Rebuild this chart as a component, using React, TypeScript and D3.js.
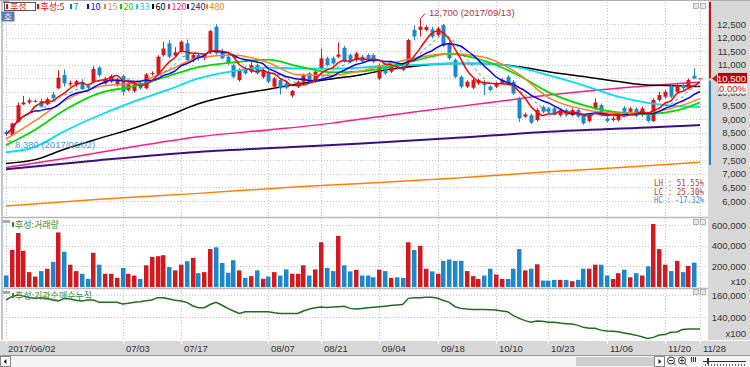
import * as d3 from 'd3'

// daily candles, 2017/06/02 .. 2017/11/28
const opens = [8540, 8420, 8910, 9550, 9620, 9670, 9670, 9550, 9910, 10140, 10630, 10280, 10280, 10380, 10230, 10380, 10900, 10320, 10380, 10260,
  10590, 10075, 10040, 10320, 10140, 10680, 10650, 11360, 11790, 11340, 11480, 11790, 11180, 11360, 11240, 11460, 12400, 11480, 11300, 10990,
  10440, 10870, 10750, 10990, 10560, 10750, 10200, 10440, 10320, 9870, 10200, 10380, 10690, 10380, 10870, 11240, 11240, 11300, 11630, 11360,
  11180, 11300, 11360, 11360, 10500, 10870, 10750, 11020, 10990, 11120, 12280, 12280, 12280, 12300, 12100, 12460, 11790, 11180, 10560, 10200,
  10160, 10320, 10380, 10200, 10200, 10320, 10560, 10380, 9770, 9100, 9150, 8970, 9460, 9400, 9400, 9150, 9340, 9150, 9340, 9150,
  8940, 9400, 9520, 9030, 8970, 8970, 9420, 9280, 9380, 9150, 9150, 8940, 9710, 9830, 10230, 10010, 10260, 10160, 10600, 10500]
const highs = [8600, 8880, 9620, 9860, 9770, 9720, 9770, 9800, 10000, 10810, 10830, 10420, 10450, 10470, 10300, 10950, 10950, 10560, 10650, 10520,
  10650, 10380, 10320, 10380, 10700, 10760, 11350, 11850, 11900, 11650, 11900, 11930, 11420, 11400, 11420, 12280, 12490, 11600, 11400, 11050,
  10870, 10950, 11120, 11050, 10870, 10810, 10560, 10500, 10380, 10080, 10420, 10680, 10750, 10800, 11600, 11300, 11300, 11820, 11700, 11420,
  11480, 11360, 11420, 11420, 11050, 10950, 11050, 11080, 11050, 11950, 12450, 12700, 12450, 12400, 12400, 12500, 11850, 11240, 10620, 10440,
  10500, 10500, 10440, 10260, 10380, 10500, 10620, 10440, 9830, 9250, 9210, 9400, 9520, 9460, 9460, 9400, 9400, 9400, 9400, 9200,
  9200, 9770, 9580, 9100, 9100, 9220, 9480, 9460, 9440, 9460, 9200, 9770, 10010, 10070, 10300, 10320, 10320, 10500, 10870, 10500]
const lows = [8380, 8400, 8880, 9520, 9560, 9620, 9430, 9520, 9700, 10100, 10200, 10200, 10200, 10080, 10100, 10350, 10560, 10280, 10340, 10200,
  9890, 10020, 9980, 10080, 10100, 10600, 10600, 11300, 11250, 11300, 11450, 11100, 11100, 11150, 11180, 11400, 11380, 11200, 11000, 10500,
  10380, 10630, 10700, 10630, 10500, 10330, 10100, 9920, 10100, 9790, 10150, 10340, 10400, 10340, 10820, 10940, 11000, 11250, 11080, 11060,
  11120, 11060, 11180, 11060, 10440, 10630, 10700, 10820, 10760, 11060, 11900, 12040, 12230, 11980, 12050, 11650, 11180, 10500, 10130, 10150,
  10100, 10260, 9890, 10020, 10150, 10280, 10280, 9900, 8900, 9050, 8820, 8920, 9220, 9220, 9150, 9100, 9100, 9100, 9050, 8800,
  8880, 9340, 9100, 8880, 8920, 8920, 9220, 9220, 9080, 9100, 8880, 8900, 9650, 9770, 9770, 9950, 10080, 10100, 10470, 10500]
const closes = [8450, 8850, 9520, 9620, 9700, 9680, 9460, 9740, 9770, 10530, 10320, 10340, 10400, 10110, 10160, 10850, 10630, 10500, 10590, 10470,
  10010, 10320, 10280, 10140, 10650, 10700, 11300, 11600, 11300, 11460, 11850, 11180, 11360, 11240, 11360, 12240, 11420, 11240, 11050, 10560,
  10810, 10690, 10990, 10690, 10810, 10380, 10500, 10140, 10160, 10040, 10380, 10630, 10440, 10750, 11240, 10990, 11050, 11380, 11120, 11120,
  11420, 11120, 11240, 11120, 10990, 10690, 10990, 10870, 10810, 11910, 12040, 12400, 12390, 12040, 12340, 11700, 11240, 10560, 10200, 10380,
  10440, 10440, 10260, 10080, 10320, 10440, 10320, 9950, 9030, 9180, 8880, 9340, 9280, 9280, 9220, 9340, 9150, 9340, 9100, 8850,
  9150, 9620, 9150, 8940, 9030, 9180, 9280, 9400, 9130, 9400, 8940, 9710, 9890, 10010, 9830, 10260, 10140, 10440, 10500, 10500]

// volume (axis unit x10)
const volumes = [111000, 358000, 522000, 351000, 144000, 101000, 154000, 177000, 243000, 528000, 341000, 216000, 154000, 128000, 79000, 331000, 216000, 128000, 128000, 89000,
  184000, 128000, 111000, 79000, 210000, 292000, 298000, 308000, 193000, 161000, 216000, 249000, 282000, 134000, 144000, 367000, 384000, 233000, 138000, 259000,
  161000, 89000, 105000, 161000, 79000, 101000, 144000, 111000, 170000, 128000, 128000, 210000, 111000, 170000, 433000, 184000, 154000, 495000, 210000, 151000,
  167000, 111000, 111000, 94000, 167000, 154000, 88000, 94000, 88000, 433000, 358000, 397000, 177000, 151000, 128000, 253000, 266000, 253000, 253000, 154000,
  105000, 78000, 111000, 177000, 121000, 78000, 78000, 177000, 367000, 161000, 177000, 220000, 62000, 62000, 69000, 69000, 69000, 56000, 69000, 177000,
  177000, 216000, 216000, 111000, 78000, 134000, 167000, 94000, 134000, 111000, 200000, 610000, 367000, 216000, 154000, 253000, 144000, 203000, 236000, 0]

// institutional net buying, cumulative (axis unit x100)
const instCum = [155500, 158500, 160000, 159000, 157600, 157000, 157600, 157000, 155500, 154600, 157000, 156400, 155200, 154600, 155500, 155500, 153400, 153400, 153400, 153400,
  151900, 152500, 153400, 154000, 154900, 155500, 157600, 157600, 156400, 155200, 154600, 153400, 150400, 148600, 148600, 151500, 153400, 151000, 148000, 145600,
  143500, 145000, 145000, 145000, 145000, 145000, 144100, 143500, 143500, 143500, 143500, 145600, 147400, 148600, 149200, 148900, 149200, 149500, 149800, 148000,
  147400, 148000, 148600, 149000, 149500, 150000, 150500, 151000, 151500, 157000, 157600, 157600, 157900, 157900, 157000, 155000, 153400, 149500, 148000, 147400,
  147100, 147100, 147100, 146800, 146500, 145600, 145000, 141500, 139000, 137000, 135500, 136700, 136500, 135500, 135500, 134800, 134300, 133900, 133000, 131000,
  130100, 130100, 128500, 127700, 127400, 127100, 126000, 125000, 124000, 122600, 121100, 122000, 124100, 124500, 126500, 126800, 129000, 129500, 129500, 129500]

// longer moving averages: [candle index, value]
const ma15: [number, number][] = [[0, 8270], [5, 8950], [10, 9680], [16, 10200], [22, 10330], [28, 10800], [33, 11260], [39, 11360], [45, 11080], [50, 10640], [56, 10620], [61, 10780],
  [65, 11000], [70, 11240], [76, 11420], [82, 11280], [88, 10650], [93, 9800], [99, 9370], [105, 9220], [110, 9240], [116, 9520], [119, 9760]]
const ma20: [number, number][] = [[0, 8050], [5, 8620], [10, 9330], [16, 9960], [22, 10220], [28, 10600], [33, 10920], [39, 11090], [45, 11190], [50, 10950], [56, 10720], [61, 10760],
  [65, 10900], [70, 11150], [76, 11400], [82, 11150], [88, 10600], [93, 10000], [99, 9520], [105, 9250], [110, 9200], [116, 9380], [119, 9620]]
const ma33: [number, number][] = [[0, 7790], [5, 7990], [10, 8560], [16, 9150], [22, 9660], [28, 10100], [33, 10500], [39, 10770], [45, 10900], [50, 10870], [56, 10860], [61, 10900],
  [65, 10960], [70, 11000], [76, 11050], [82, 11050], [88, 10900], [93, 10620], [99, 10250], [105, 9830], [110, 9600], [116, 9470], [119, 9460]]
const ma60: [number, number][] = [[0, 7380], [5, 7520], [10, 7900], [16, 8300], [22, 8680], [28, 9150], [33, 9570], [39, 9890], [45, 10100], [50, 10300], [56, 10490], [61, 10640],
  [65, 10810], [70, 10950], [76, 11050], [82, 11050], [88, 10930], [93, 10750], [99, 10570], [105, 10390], [110, 10260], [116, 10230], [119, 10200]]
const ma120: [number, number][] = [[0, 7230], [10, 7560], [22, 8000], [33, 8360], [45, 8610], [56, 8860], [61, 9010], [70, 9270], [82, 9590], [93, 9890], [105, 10140], [116, 10320], [119, 10370]]
const ma240: [number, number][] = [[0, 7170], [16, 7500], [33, 7800], [50, 7990], [61, 8110], [76, 8300], [93, 8540], [110, 8700], [119, 8790]]
const ma480: [number, number][] = [[0, 5820], [16, 6060], [33, 6280], [50, 6520], [61, 6640], [76, 6830], [93, 7070], [110, 7290], [119, 7420]]

const tickIdx = [0, 20, 30, 45, 54, 64, 74, 84, 93, 103, 113, 119]
const tickLabels = ['2017/06/02', '07/03', '07/17', '08/07', '08/21', '09/04', '09/18', '10/10', '10/23', '11/06', '11/20', '11/28']

const RED = '#d11a1f'
const BLUE = '#1d88c9'
const NUM_FONT = '"Liberation Sans", Arial, sans-serif'
const KR_FONT = '"Noto Sans CJK KR", "Liberation Sans", sans-serif'

const x = d3.scaleLinear().domain([0, 119]).range([6, 700])
const yP = d3.scaleLinear().domain([6000, 12500]).range([201, 24])
const yV = d3.scaleLinear().domain([0, 600000]).range([287, 225])
const yC = d3.scaleLinear().domain([140000, 160000]).range([317.3, 295])
const fmt = d3.format(',')

const sma = (n: number) => closes.map((_, i) => d3.mean(closes.slice(Math.max(0, i - n + 1), i + 1)) as number)
const priceLine = d3.line<number>().x((_, i) => x(i)).y((d) => yP(d)).curve(d3.curveMonotoneX)
const knotLine = d3.line<[number, number]>().x((d) => x(d[0])).y((d) => yP(d[1])).curve(d3.curveMonotoneX)
const cumLine = d3.line<number>().x((_, i) => x(i)).y((d) => yC(d))

const legend = [
  { x: 37, label: '후성:5', color: '#ff0000' },
  { x: 70, label: '7', color: '#008b8b' },
  { x: 87, label: '10', color: '#0000ff' },
  { x: 104, label: '15', color: '#ff7f27' },
  { x: 120, label: '20', color: '#00d000' },
  { x: 136, label: '33', color: '#00d8f0' },
  { x: 152, label: '60', color: '#000000' },
  { x: 168, label: '120', color: '#ff1a8c' },
  { x: 187, label: '240', color: '#3a1080' },
  { x: 206, label: '480', color: '#ff8000' },
]

export default function App() {
  const ma5 = sma(5)
  const ma7 = sma(7)
  const ma10 = sma(10)
  const priceTicks = d3.range(6000, 12501, 500)
  const hi = 12700
  const hiIdx = 71

  return (
    <div style={{ position: 'absolute', left: 0, top: 0 }}>
      <svg width={750} height={367} style={{ display: 'block', background: '#fff' }}>
        <defs>
          <clipPath id="mainClip"><rect x={3} y={2} width={705} height={214} /></clipPath>
          <clipPath id="cumClip"><rect x={3} y={289} width={705} height={51} /></clipPath>
        </defs>

        {/* right axis and frame */}
        <rect x={708} y={0} width={42} height={341} fill="#d8d8d8" />
        <line x1={0} x2={750} y1={0.5} y2={0.5} stroke="#b0b0b0" />
        <line x1={2} x2={2} y1={0} y2={341} stroke="#9fb4c8" strokeWidth={1.5} />

        {/* grids */}
        {priceTicks.map((p) => (
          <line key={p} x1={3} x2={707} y1={Math.round(yP(p)) + 0.5} y2={Math.round(yP(p)) + 0.5} stroke="#c4c4c4" strokeDasharray="1,2" />
        ))}
        {[200000, 400000, 600000].map((v) => (
          <line key={v} x1={3} x2={707} y1={Math.round(yV(v)) + 0.5} y2={Math.round(yV(v)) + 0.5} stroke="#c4c4c4" strokeDasharray="1,2" />
        ))}
        {[120000, 140000, 160000].map((v) => (
          <line key={v} x1={3} x2={707} y1={Math.round(yC(v)) + 0.5} y2={Math.round(yC(v)) + 0.5} stroke="#c4c4c4" strokeDasharray="1,2" />
        ))}
        {tickIdx.map((i) => (
          <line key={i} x1={Math.round(x(i)) + 0.5} x2={Math.round(x(i)) + 0.5} y1={2} y2={340} stroke="#c4c4c4" strokeDasharray="1,2" />
        ))}

        {/* panel separators */}
        <line x1={3} x2={708} y1={217.5} y2={217.5} stroke="#b8b8b8" strokeWidth={1.5} />
        <line x1={3} x2={708} y1={288.5} y2={288.5} stroke="#b8b8b8" strokeWidth={1.5} />

        {/* main price panel */}
        <g clipPath="url(#mainClip)">
          <path d={knotLine(ma480) ?? undefined} fill="none" stroke="#ff8000" strokeWidth={1.5} />
          <path d={knotLine(ma240) ?? undefined} fill="none" stroke="#3a1080" strokeWidth={2} />
          <path d={knotLine(ma120) ?? undefined} fill="none" stroke="#ff1a8c" strokeWidth={1.5} />
          <path d={knotLine(ma60) ?? undefined} fill="none" stroke="#000" strokeWidth={1.5} />
          {closes.map((c, i) => {
            const o = opens[i]
            const col = c >= o ? RED : BLUE
            const cx = Math.round(x(i)) + 0.5
            const top = yP(Math.max(o, c))
            const bot = yP(Math.min(o, c))
            return (
              <g key={i}>
                <line x1={cx} x2={cx} y1={yP(highs[i])} y2={yP(lows[i])} stroke={col} />
                <rect x={cx - 2} y={top} width={4} height={Math.max(1, bot - top)} fill={col} />
              </g>
            )
          })}
          <path d={knotLine(ma33) ?? undefined} fill="none" stroke="#00e0f4" strokeWidth={1.8} />
          <path d={knotLine(ma20) ?? undefined} fill="none" stroke="#00dd00" strokeWidth={1.8} />
          <path d={knotLine(ma15) ?? undefined} fill="none" stroke="#ff7f27" strokeWidth={1.5} />
          <path d={priceLine(ma10) ?? undefined} fill="none" stroke="#0000ff" strokeWidth={1.5} />
          <path d={priceLine(ma7) ?? undefined} fill="none" stroke="#008b8b" strokeWidth={0.8} strokeDasharray="3,3" />
          <path d={priceLine(ma5) ?? undefined} fill="none" stroke="#ff0000" strokeWidth={1.5} />
        </g>

        {/* high / low annotations */}
        <line x1={x(hiIdx) + 0.5} x2={x(hiIdx) + 5} y1={yP(hi)} y2={yP(hi) - 5} stroke={RED} />
        <text x={429} y={16} fontSize={9.5} fill="#c03030" fontFamily={NUM_FONT}>12,700 (2017/09/13)</text>
        <line x1={7} x2={12} y1={yP(8380) + 5} y2={yP(8380) + 5} stroke="#4f9ad6" />
        <text x={15} y={148} fontSize={9.5} fill="#4f9ad6" fontFamily={NUM_FONT}>8,380 (2017/06/02)</text>

        <text x={704} y={186} fontSize={9} fill="#c0392b" textAnchor="end" fontFamily='"DejaVu Sans Mono", monospace' textLength={50} lengthAdjust="spacingAndGlyphs">LH :  51.55%</text>
        <text x={704} y={194.5} fontSize={9} fill="#c0392b" textAnchor="end" fontFamily='"DejaVu Sans Mono", monospace' textLength={50} lengthAdjust="spacingAndGlyphs">LC :  25.30%</text>
        <text x={704} y={203} fontSize={9} fill="#3d8fd1" textAnchor="end" fontFamily='"DejaVu Sans Mono", monospace' textLength={50} lengthAdjust="spacingAndGlyphs">HC : -17.32%</text>

        {/* legend */}
        <rect x={3} y={0} width={6} height={3} fill="#a0a0a0" />
        <rect x={4.5} y={2.5} width={31} height={8} fill="#fff" stroke="#555" />
        <rect x={6} y={4} width={2} height={5} fill="#ff0000" />
        <text x={10} y={9.5} fontSize={9} fill="#e02020" fontFamily={KR_FONT}>후성</text>
        {legend.map((l) => (
          <g key={l.label}>
            <rect x={l.x} y={4} width={2} height={5} fill={l.color} />
            <text x={l.x + 3.5} y={9.5} fontSize={9} fill={l.color} fontFamily={KR_FONT}>{l.label}</text>
          </g>
        ))}
        <rect x={1.5} y={11.5} width={13} height={10} fill="#5a80b0" />
        <text x={8} y={19.5} fontSize={8.5} fill="#fff" textAnchor="middle" fontFamily={KR_FONT}>호</text>

        {/* volume panel */}
        {volumes.map((v, i) => (
          <rect key={i} x={Math.round(x(i)) - 2} y={yV(v)} width={4.5} height={yV(0) - yV(v)} fill={closes[i] >= opens[i] ? RED : BLUE} />
        ))}
        <rect x={3} y={220} width={7} height={3} fill="#a8a8a8" />
        <rect x={12} y={222} width={2} height={5} fill="#2e8b2e" />
        <text x={15} y={227.5} fontSize={9} fill="#3c8c3c" fontFamily={KR_FONT}>후성:거래량</text>

        {/* institutional cumulative panel */}
        <path d={cumLine(instCum) ?? undefined} fill="none" stroke="#1f6e1f" strokeWidth={1.5} clipPath="url(#cumClip)" />
        <rect x={3} y={291} width={7} height={3} fill="#a8a8a8" />
        <rect x={12} y={293} width={2} height={5} fill="#2e8b2e" />
        <text x={15} y={298.5} fontSize={9} fill="#3c8c3c" fontFamily={KR_FONT}>후성:기관순매수누적</text>

        {/* panel buttons */}
        {[3, 219, 289].map((py) => (
          <g key={py}>
            <rect x={693.5} y={py + 0.5} width={5} height={5} fill="#e8e8e8" stroke="#999" strokeWidth={0.7} />
            <rect x={700.5} y={py + 0.5} width={5} height={5} fill="#e8e8e8" stroke="#999" strokeWidth={0.7} />
          </g>
        ))}

        {/* right axis labels */}
        {priceTicks.map((p) => (
          <text key={p} x={746} y={yP(p) + 3.5} fontSize={9.5} fill="#333" textAnchor="end" fontFamily={NUM_FONT}>{fmt(p)}</text>
        ))}
        <line x1={710} x2={710} y1={2} y2={yP(10500)} stroke="#c01818" strokeWidth={2} />
        <line x1={710} x2={710} y1={yP(10500) + 2} y2={165} stroke="#1d88c9" strokeWidth={2} />
        <path d={`M712,${yP(10500)} L717,${yP(10500) - 4} L717,${yP(10500) + 4} Z`} fill="#c01818" />
        <rect x={718} y={yP(10500) - 5.5} width={29} height={10.5} fill="#c00000" />
        <text x={746} y={yP(10500) + 3.5} fontSize={9.5} fill="#fff" textAnchor="end" fontFamily={NUM_FONT}>10,500</text>
        <rect x={719} y={yP(10500) + 5} width={28} height={10} fill="#fff" />
        <text x={746} y={yP(10500) + 13.5} fontSize={9.5} fill="#d01010" textAnchor="end" fontFamily={NUM_FONT}>0.00%</text>

        {[200000, 400000, 600000].map((v) => (
          <text key={v} x={746} y={yV(v) + 3.5} fontSize={9.5} fill="#333" textAnchor="end" fontFamily={NUM_FONT}>{fmt(v)}</text>
        ))}
        <text x={746} y={284.5} fontSize={9.5} fill="#333" textAnchor="end" fontFamily={NUM_FONT}>x10</text>
        {[140000, 160000].map((v) => (
          <text key={v} x={746} y={yC(v) + 3.5} fontSize={9.5} fill="#333" textAnchor="end" fontFamily={NUM_FONT}>{fmt(v)}</text>
        ))}
        <text x={746} y={336.5} fontSize={9.5} fill="#333" textAnchor="end" fontFamily={NUM_FONT}>x100</text>

        {/* date axis */}
        <rect x={0} y={340} width={750} height={15} fill="#d8d8d8" />
        <line x1={0} x2={750} y1={340.5} y2={340.5} stroke="#fff" />
        {tickIdx.map((i, k) => (
          <g key={i}>
            <line x1={Math.round(x(i)) + 0.5} x2={Math.round(x(i)) + 0.5} y1={341} y2={344} stroke="#fff" />
            <text x={k === 0 ? 8 : Math.round(x(i)) + 3} y={352} fontSize={9.5} fill="#333" fontFamily={NUM_FONT}>{tickLabels[k]}</text>
          </g>
        ))}

        {/* scroll bar */}
        <rect x={0} y={355} width={750} height={12} fill="#f4f4f4" />
        <line x1={0} x2={750} y1={355.5} y2={355.5} stroke="#9a9a9a" />
        <rect x={0.5} y={356.5} width={10} height={10} fill="#fff" stroke="#888" />
        <path d="M3.5,361.5 L6.5,359 L6.5,364 Z" fill="#222" />
        <rect x={576} y={357} width={78} height={9} fill="#cfcfcf" />
        <rect x={654.5} y={356.5} width={10} height={10} fill="#fff" stroke="#888" />
        <path d="M661.5,361.5 L658.5,359 L658.5,364 Z" fill="#222" />
        <circle cx={671} cy={360.5} r={3.5} fill="none" stroke="#333" />
        <line x1={669} x2={673} y1={360.5} y2={360.5} stroke="#333" />
        <line x1={673.5} x2={676} y1={363} y2={365.5} stroke="#333" />
        <circle cx={682} cy={360.5} r={3.5} fill="none" stroke="#333" />
        <line x1={680} x2={684} y1={360.5} y2={360.5} stroke="#333" />
        <line x1={682} x2={682} y1={358.5} y2={362.5} stroke="#333" />
        <line x1={684.5} x2={687} y1={363} y2={365.5} stroke="#333" />
        {[691, 693, 695].map((lx) => (
          <line key={lx} x1={lx + 0.5} x2={lx + 0.5} y1={357} y2={362} stroke="#333" />
        ))}
        <line x1={703} x2={746} y1={361.5} y2={361.5} stroke="#333" />
        <rect x={707} y={358} width={2} height={6} fill="#333" />
        {d3.range(705, 747, 3).map((lx) => (
          <line key={lx} x1={lx + 0.5} x2={lx + 0.5} y1={364} y2={366} stroke="#666" />
        ))}
      </svg>
    </div>
  )
}
